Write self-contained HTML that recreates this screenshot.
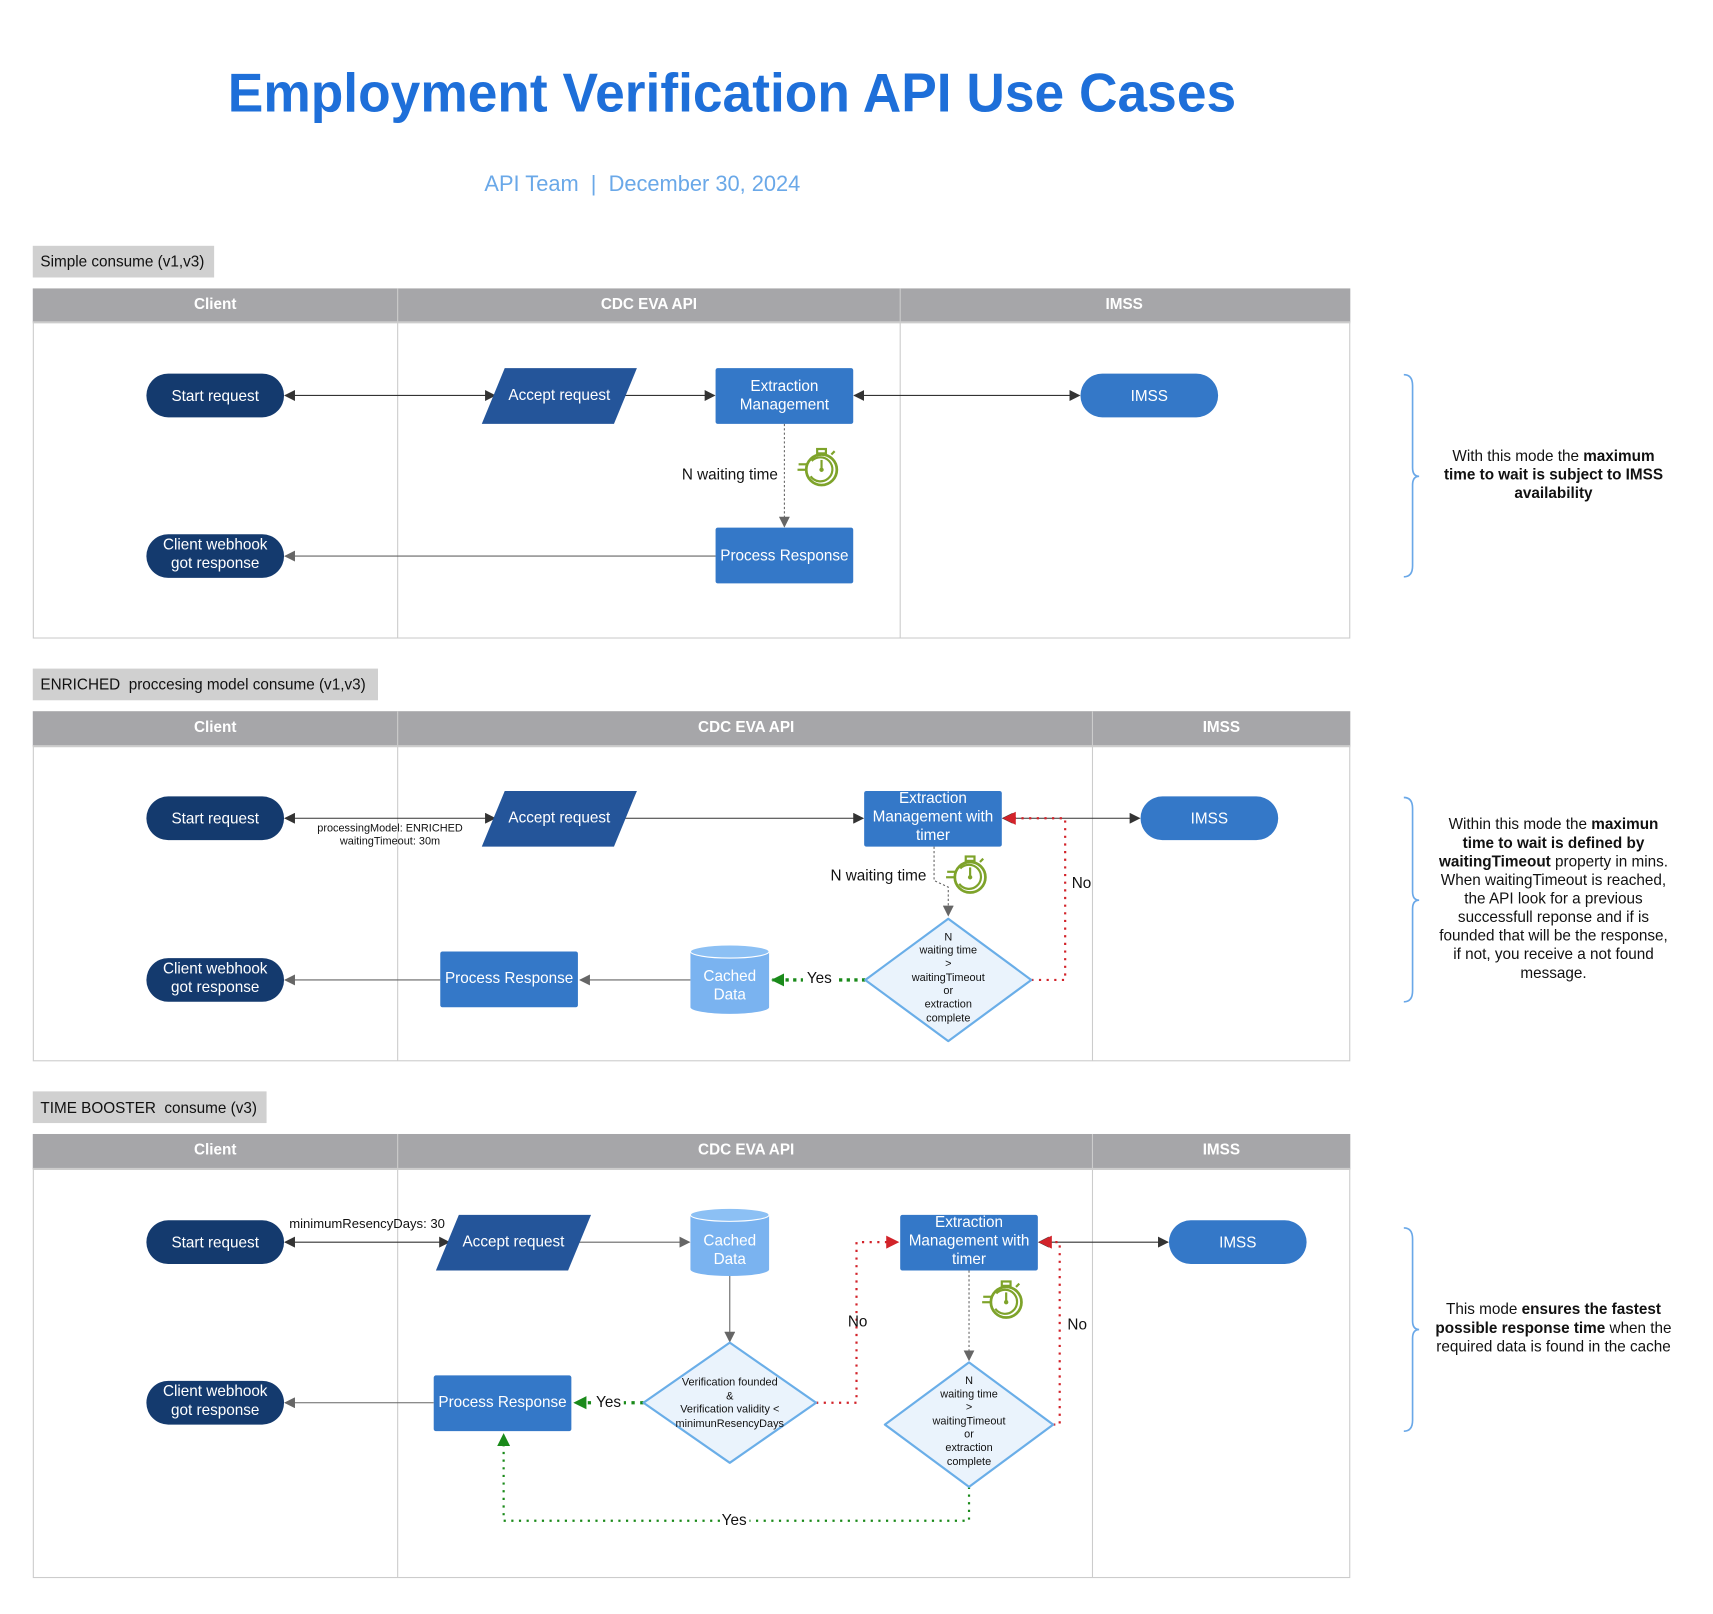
<!DOCTYPE html>
<html><head><meta charset="utf-8"><style>
html,body{margin:0;padding:0;background:#fff;}
svg{display:block;font-family:"Liberation Sans",sans-serif;}
</style></head><body>
<svg width="1713" height="1614" viewBox="0 0 1568 1477" preserveAspectRatio="xMinYMin meet" xmlns="http://www.w3.org/2000/svg">
<defs>
<marker id="ad" viewBox="0 0 10 10" refX="9" refY="5" markerWidth="10" markerHeight="10" markerUnits="userSpaceOnUse" orient="auto-start-reverse"><path d="M0,0 L10,5 L0,10z" fill="#333"/></marker>
<marker id="ag" viewBox="0 0 10 10" refX="9" refY="5" markerWidth="10" markerHeight="10" markerUnits="userSpaceOnUse" orient="auto-start-reverse"><path d="M0,0 L10,5 L0,10z" fill="#666"/></marker>
<marker id="ar" viewBox="0 0 10 10" refX="9" refY="5" markerWidth="12" markerHeight="12" markerUnits="userSpaceOnUse" orient="auto"><path d="M0,0 L10,5 L0,10z" fill="#d2232a"/></marker>
<marker id="agr" viewBox="0 0 10 10" refX="9" refY="5" markerWidth="12" markerHeight="12" markerUnits="userSpaceOnUse" orient="auto"><path d="M0,0 L10,5 L0,10z" fill="#1a8a1a"/></marker>
<g id="sw">
<circle cx="0" cy="2" r="14" fill="none" stroke="#7ea32a" stroke-width="2.5"/>
<path d="M-9,-6 A11,11 0 1 1 -10,8" fill="none" stroke="#7ea32a" stroke-width="2"/>
<line x1="0" y1="2" x2="0" y2="-7" stroke="#7ea32a" stroke-width="2"/>
<circle cx="0" cy="2" r="2" fill="#7ea32a"/>
<rect x="-4" y="-17" width="8" height="4" fill="none" stroke="#7ea32a" stroke-width="2"/>
<line x1="9" y1="-12" x2="12" y2="-15" stroke="#7ea32a" stroke-width="2"/>
<line x1="-21" y1="-3" x2="-13" y2="-3" stroke="#7ea32a" stroke-width="2"/>
<line x1="-22" y1="2" x2="-14" y2="2" stroke="#7ea32a" stroke-width="2"/>
</g>
</defs>

<text x="670" y="102" text-anchor="middle" font-size="50" font-weight="bold" fill="#1e6fd9" textLength="923" lengthAdjust="spacingAndGlyphs">Employment Verification API Use Cases</text>
<text x="588" y="175" text-anchor="middle" font-size="20" fill="#6aa8e8">API Team&#160;&#160;|&#160;&#160;December 30, 2024</text>

<g font-size="14" fill="#fff" text-anchor="middle">
<!-- ===== Section 1 ===== -->
<rect x="30" y="225" width="166" height="29" fill="#d0d0d0"/>
<text x="37" y="244" text-anchor="start" fill="#111">Simple consume (v1,v3)</text>
<rect x="30.5" y="295" width="1205" height="289" fill="#fff" stroke="#ccc"/>
<rect x="30" y="264" width="1206" height="31" fill="#a6a6a9"/>
<line x1="30" y1="295" x2="1236" y2="295" stroke="#ccc" stroke-width="2"/>
<line x1="364" y1="264" x2="364" y2="584" stroke="#ccc"/>
<line x1="824" y1="264" x2="824" y2="584" stroke="#ccc"/>
<g font-weight="bold"><text x="197" y="283">Client</text><text x="594" y="283">CDC EVA API</text><text x="1029" y="283">IMSS</text></g>

<line x1="261" y1="362" x2="453" y2="362" stroke="#333" marker-start="url(#ad)" marker-end="url(#ad)"/>
<line x1="565" y1="362" x2="654" y2="362" stroke="#333" marker-end="url(#ad)"/>
<line x1="782" y1="362" x2="988" y2="362" stroke="#333" marker-start="url(#ad)" marker-end="url(#ad)"/>
<line x1="718" y1="388" x2="718" y2="482" stroke="#666" stroke-dasharray="2,2" marker-end="url(#ag)"/>
<line x1="655" y1="509" x2="261" y2="509" stroke="#666" marker-end="url(#ag)"/>

<rect x="134" y="342" width="126" height="40" rx="20" fill="#143a6e"/><text x="197" y="367">Start request</text>
<polygon points="462,337 583,337 562,388 441,388" fill="#24559a"/><text x="512" y="366">Accept request</text>
<rect x="655" y="337" width="126" height="51" rx="2" fill="#3478c8"/><text x="718" y="358">Extraction</text><text x="718" y="375">Management</text>
<rect x="989" y="342" width="126" height="40" rx="20" fill="#3478c8"/><text x="1052" y="367">IMSS</text>
<rect x="655" y="483" width="126" height="51" rx="2" fill="#3478c8"/><text x="718" y="513">Process Response</text>
<rect x="134" y="489" width="126" height="40" rx="20" fill="#143a6e"/><text x="197" y="503">Client webhook</text><text x="197" y="520">got response</text>
<text x="712" y="439" text-anchor="end" fill="#111">N waiting time</text>
<use href="#sw" x="752" y="428"/>

<path d="M1285,343 Q1293,343 1293,353 L1293,428 Q1293,436 1299,436 Q1293,436 1293,444 L1293,518 Q1293,528 1285,528" fill="none" stroke="#6aa8e8" stroke-width="1.5"/>
<g fill="#111"><text x="1422" y="422">With this mode the <tspan font-weight="bold">maximum</tspan></text>
<text x="1422" y="439" font-weight="bold">time to wait is subject to IMSS</text>
<text x="1422" y="456" font-weight="bold">availability</text></g>

<!-- ===== Section 2 ===== -->
<rect x="30" y="612" width="316" height="29" fill="#d0d0d0"/>
<text x="37" y="631" text-anchor="start" fill="#111">ENRICHED&#160; proccesing model consume (v1,v3)</text>
<rect x="30.5" y="683" width="1205" height="288" fill="#fff" stroke="#ccc"/>
<rect x="30" y="651" width="1206" height="32" fill="#a6a6a9"/>
<line x1="30" y1="683" x2="1236" y2="683" stroke="#ccc" stroke-width="2"/>
<line x1="364" y1="651" x2="364" y2="971" stroke="#ccc"/>
<line x1="1000" y1="651" x2="1000" y2="971" stroke="#ccc"/>
<g font-weight="bold"><text x="197" y="670">Client</text><text x="683" y="670">CDC EVA API</text><text x="1118" y="670">IMSS</text></g>

<line x1="261" y1="749" x2="453" y2="749" stroke="#333" marker-start="url(#ad)" marker-end="url(#ad)"/>
<line x1="565" y1="749" x2="790" y2="749" stroke="#333" marker-end="url(#ad)"/>
<line x1="918" y1="749" x2="1043" y2="749" stroke="#333" marker-start="url(#ad)" marker-end="url(#ad)"/>
<path d="M855,775 L855,806 L868,812 L868,838" fill="none" stroke="#666" stroke-dasharray="2,2" marker-end="url(#ag)"/>
<path d="M944,897 L975,897 L975,749 L919,749" fill="none" stroke="#d2232a" stroke-width="2" stroke-dasharray="2,5" marker-end="url(#ar)"/>
<path d="M792,897 L707,897" fill="none" stroke="#1a8a1a" stroke-width="3" stroke-dasharray="3,4" marker-end="url(#agr)"/>
<line x1="632" y1="897" x2="531" y2="897" stroke="#666" marker-end="url(#ag)"/>
<line x1="403" y1="897" x2="261" y2="897" stroke="#666" marker-end="url(#ag)"/>

<rect x="134" y="729" width="126" height="40" rx="20" fill="#143a6e"/><text x="197" y="754">Start request</text>
<g font-size="10" fill="#111"><text x="357" y="761">processingModel: ENRICHED</text><text x="357" y="773">waitingTimeout: 30m</text></g>
<polygon points="462,724 583,724 562,775 441,775" fill="#24559a"/><text x="512" y="753">Accept request</text>
<rect x="791" y="724" width="126" height="51" rx="2" fill="#3478c8"/><text x="854" y="735">Extraction</text><text x="854" y="752">Management with</text><text x="854" y="769">timer</text>
<rect x="1044" y="729" width="126" height="40" rx="20" fill="#3478c8"/><text x="1107" y="754">IMSS</text>
<text x="848" y="806" text-anchor="end" fill="#111">N waiting time</text>
<use href="#sw" x="888" y="801"/>
<text x="990" y="813" fill="#111">No</text>
<polygon points="868,841 944,897 868,953 792,897" fill="#eaf3fc" stroke="#6aaee8" stroke-width="2" stroke-linejoin="round"/>
<g font-size="10" fill="#111"><text x="868" y="861">N</text><text x="868" y="873">waiting time</text><text x="868" y="885">&gt;</text><text x="868" y="898">waitingTimeout</text><text x="868" y="910">or</text><text x="868" y="922">extraction</text><text x="868" y="935">complete</text></g>
<rect x="735" y="887" width="30" height="16" fill="#fff"/>
<text x="750" y="900" fill="#111">Yes</text>
<path d="M632,871 L632,922 A36,6 0 0 0 704,922 L704,871 Z" fill="#7ab3f0"/>
<ellipse cx="668" cy="871" rx="36" ry="6" fill="#8cc0f4" stroke="#fff" stroke-width="1"/>
<text x="668" y="898">Cached</text><text x="668" y="915">Data</text>
<rect x="403" y="871" width="126" height="51" rx="2" fill="#3478c8"/><text x="466" y="900">Process Response</text>
<rect x="134" y="877" width="126" height="40" rx="20" fill="#143a6e"/><text x="197" y="891">Client webhook</text><text x="197" y="908">got response</text>

<path d="M1285,730 Q1293,730 1293,740 L1293,816 Q1293,824 1299,824 Q1293,824 1293,832 L1293,907 Q1293,917 1285,917" fill="none" stroke="#6aa8e8" stroke-width="1.5"/>
<g fill="#111"><text x="1422" y="759">Within this mode the <tspan font-weight="bold">maximun</tspan></text>
<text x="1422" y="776" font-weight="bold">time to wait is defined by</text>
<text x="1422" y="793"><tspan font-weight="bold">waitingTimeout</tspan> property in mins.</text>
<text x="1422" y="810">When waitingTimeout is reached,</text>
<text x="1422" y="827">the API look for a previous</text>
<text x="1422" y="844">successfull reponse and if is</text>
<text x="1422" y="861">founded that will be the response,</text>
<text x="1422" y="878">if not, you receive a not found</text>
<text x="1422" y="895">message.</text></g>

<!-- ===== Section 3 ===== -->
<rect x="30" y="999" width="214" height="29" fill="#d0d0d0"/>
<text x="37" y="1019" text-anchor="start" fill="#111">TIME BOOSTER&#160; consume (v3)</text>
<rect x="30.5" y="1070" width="1205" height="374" fill="#fff" stroke="#ccc"/>
<rect x="30" y="1038" width="1206" height="32" fill="#a6a6a9"/>
<line x1="30" y1="1070" x2="1236" y2="1070" stroke="#ccc" stroke-width="2"/>
<line x1="364" y1="1038" x2="364" y2="1444" stroke="#ccc"/>
<line x1="1000" y1="1038" x2="1000" y2="1444" stroke="#ccc"/>
<g font-weight="bold"><text x="197" y="1057">Client</text><text x="683" y="1057">CDC EVA API</text><text x="1118" y="1057">IMSS</text></g>

<line x1="261" y1="1137" x2="411" y2="1137" stroke="#333" marker-start="url(#ad)" marker-end="url(#ad)"/>
<line x1="523" y1="1137" x2="631" y2="1137" stroke="#666" marker-end="url(#ag)"/>
<line x1="951" y1="1137" x2="1069" y2="1137" stroke="#333" marker-start="url(#ad)" marker-end="url(#ad)"/>
<line x1="668" y1="1168" x2="668" y2="1228" stroke="#666" marker-end="url(#ag)"/>
<path d="M747,1284 L784,1284 L784,1137 L822,1137" fill="none" stroke="#d2232a" stroke-width="2" stroke-dasharray="2,5" marker-end="url(#ar)"/>
<path d="M589,1284 L526,1284" fill="none" stroke="#1a8a1a" stroke-width="3" stroke-dasharray="3,5" marker-end="url(#agr)"/>
<line x1="887" y1="1163" x2="887" y2="1245" stroke="#666" stroke-dasharray="2,2" marker-end="url(#ag)"/>
<path d="M964,1304 L970,1304 L970,1137 L952,1137" fill="none" stroke="#d2232a" stroke-width="2" stroke-dasharray="2,5" marker-end="url(#ar)"/>
<path d="M887,1361 L887,1392 L461,1392 L461,1313" fill="none" stroke="#1a8a1a" stroke-width="2" stroke-dasharray="2,5" marker-end="url(#agr)"/>
<line x1="397" y1="1284" x2="261" y2="1284" stroke="#666" marker-end="url(#ag)"/>

<rect x="134" y="1117" width="126" height="40" rx="20" fill="#143a6e"/><text x="197" y="1142">Start request</text>
<text x="336" y="1124" font-size="12" fill="#111">minimumResencyDays: 30</text>
<polygon points="420,1112 541,1112 520,1163 399,1163" fill="#24559a"/><text x="470" y="1141">Accept request</text>
<path d="M632,1112 L632,1162 A36,6 0 0 0 704,1162 L704,1112 Z" fill="#7ab3f0"/>
<ellipse cx="668" cy="1112" rx="36" ry="6" fill="#8cc0f4" stroke="#fff" stroke-width="1"/>
<text x="668" y="1140">Cached</text><text x="668" y="1157">Data</text>
<rect x="824" y="1112" width="126" height="51" rx="2" fill="#3478c8"/><text x="887" y="1123">Extraction</text><text x="887" y="1140">Management with</text><text x="887" y="1157">timer</text>
<rect x="1070" y="1117" width="126" height="40" rx="20" fill="#3478c8"/><text x="1133" y="1142">IMSS</text>
<use href="#sw" x="921" y="1190"/>
<text x="785" y="1214" fill="#111">No</text>
<text x="986" y="1217" fill="#111">No</text>
<polygon points="668,1229 747,1284 668,1339 589,1284" fill="#eaf3fc" stroke="#6aaee8" stroke-width="2" stroke-linejoin="round"/>
<g font-size="10" fill="#111"><text x="668" y="1268">Verification founded</text><text x="668" y="1281">&amp;</text><text x="668" y="1293">Verification validity &lt;</text><text x="668" y="1306">minimunResencyDays</text></g>
<rect x="543" y="1275" width="28" height="16" fill="#fff"/>
<text x="557" y="1288" fill="#111">Yes</text>
<rect x="397" y="1259" width="126" height="51" rx="2" fill="#3478c8"/><text x="460" y="1288">Process Response</text>
<rect x="134" y="1264" width="126" height="40" rx="20" fill="#143a6e"/><text x="197" y="1278">Client webhook</text><text x="197" y="1295">got response</text>
<polygon points="887,1247 964,1304 887,1361 810,1304" fill="#eaf3fc" stroke="#6aaee8" stroke-width="2" stroke-linejoin="round"/>
<g font-size="10" fill="#111"><text x="887" y="1267">N</text><text x="887" y="1279">waiting time</text><text x="887" y="1291">&gt;</text><text x="887" y="1304">waitingTimeout</text><text x="887" y="1316">or</text><text x="887" y="1328">extraction</text><text x="887" y="1341">complete</text></g>
<rect x="660" y="1384" width="26" height="14" fill="#fff"/>
<text x="672" y="1396" fill="#111">Yes</text>

<path d="M1285,1124 Q1293,1124 1293,1134 L1293,1209 Q1293,1217 1299,1217 Q1293,1217 1293,1225 L1293,1300 Q1293,1310 1285,1310" fill="none" stroke="#6aa8e8" stroke-width="1.5"/>
<g fill="#111"><text x="1422" y="1203">This mode <tspan font-weight="bold">ensures the fastest</tspan></text>
<text x="1422" y="1220"><tspan font-weight="bold">possible response time</tspan> when the</text>
<text x="1422" y="1237">required data is found in the cache</text></g>
</g>
</svg>
</body></html>
